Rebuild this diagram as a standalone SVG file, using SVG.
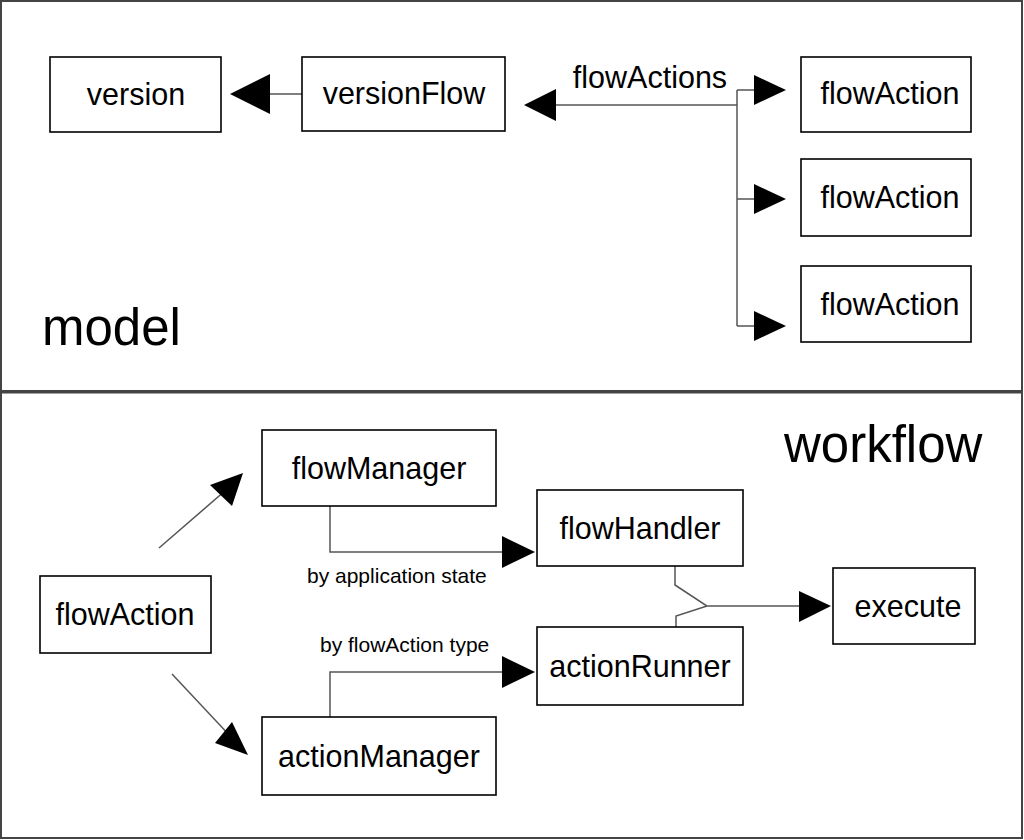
<svg xmlns="http://www.w3.org/2000/svg" width="1024" height="840" viewBox="0 0 1024 840">
<style>
.panel{fill:#fff;stroke:#444;stroke-width:2}
.box{fill:#fff;stroke:#000;stroke-width:1.6}
.t{font-family:"Liberation Sans",Arial,sans-serif;font-size:30.5px;fill:#000;text-anchor:middle}
.big{font-family:"Liberation Sans",Arial,sans-serif;font-size:51px;fill:#000}
.lbl{font-family:"Liberation Sans",Arial,sans-serif;font-size:21px;fill:#000}
.ln{fill:none;stroke:#555;stroke-width:1.5}
.ah{fill:#000}
</style>
<rect width="1024" height="840" fill="#fff"/>
<g id="panels">
<rect class="panel" x="1" y="1" width="1021" height="390"/>
<rect class="panel" x="1" y="392.5" width="1021" height="445.5"/>
<text class="big" x="42" y="345">model</text>
<text class="big" x="784" y="462">workflow</text>
</g>
<g id="connectors">
<path class="ln" d="M302,94 H268"/>
<polygon class="ah" points="230,94 270,74 270,114"/>
<path class="ln" d="M737,105 H555 M737,90 V326 M737,90 H755 M737,199 H755 M737,326 H755"/>
<polygon class="ah" points="524,105 556,89 556,121"/>
<polygon class="ah" points="786,90 754,75 754,105"/>
<polygon class="ah" points="786,199 754,184 754,214"/>
<polygon class="ah" points="786,326 754,311 754,341"/>
<text class="t" x="650" y="88">flowActions</text>
<path class="ln" d="M159,548 L226,490"/>
<polygon class="ah" points="243,473 210,485 232,506"/>
<path class="ln" d="M172,674 L232,738"/>
<polygon class="ah" points="248,755 215,743 232,722"/>
<path class="ln" d="M330,506 V552 H505"/>
<polygon class="ah" points="535,552 502,536 502,568"/>
<text class="lbl" x="307" y="583">by application state</text>
<path class="ln" d="M330,717 V672 H505"/>
<polygon class="ah" points="535,672 502,656 502,688"/>
<text class="lbl" x="320" y="652">by flowAction type</text>
<path class="ln" d="M675,566 V585 L707,606 L676,616 V627 M707,606 H800"/>
<polygon class="ah" points="831,606 799,591 799,622"/>
</g>
<g id="version"><rect class="box" x="50" y="57" width="171" height="75"/><text class="t" x="136" y="105">version</text></g>
<g id="versionFlow"><rect class="box" x="302" y="57" width="203" height="74"/><text class="t" x="404" y="104">versionFlow</text></g>
<g id="flowAction1"><rect class="box" x="801" y="57" width="170" height="75"/><text class="t" x="890" y="104">flowAction</text></g>
<g id="flowAction2"><rect class="box" x="801" y="159" width="170" height="77"/><text class="t" x="890" y="208">flowAction</text></g>
<g id="flowAction3"><rect class="box" x="801" y="266" width="170" height="76"/><text class="t" x="890" y="315">flowAction</text></g>
<g id="flowManager"><rect class="box" x="262" y="430" width="234" height="76"/><text class="t" x="379" y="479">flowManager</text></g>
<g id="flowHandler"><rect class="box" x="537" y="490" width="206" height="76"/><text class="t" x="640" y="539">flowHandler</text></g>
<g id="flowActionB"><rect class="box" x="40" y="576" width="171" height="77"/><text class="t" x="125" y="625">flowAction</text></g>
<g id="execute"><rect class="box" x="833" y="568" width="142" height="76"/><text class="t" x="908" y="617">execute</text></g>
<g id="actionRunner"><rect class="box" x="537" y="627" width="206" height="78"/><text class="t" x="640" y="677">actionRunner</text></g>
<g id="actionManager"><rect class="box" x="262" y="717" width="234" height="78"/><text class="t" x="379" y="767">actionManager</text></g>
</svg>
